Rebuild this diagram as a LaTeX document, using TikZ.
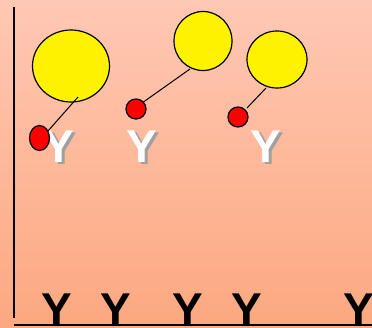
\documentclass[tikz,border=0pt]{standalone}
\usepackage{fontspec}
\setmainfont{Liberation Sans}
\definecolor{bgtop}{RGB}{255,200,180}
\definecolor{bgbot}{RGB}{252,168,128}
\definecolor{shadowgrey}{RGB}{160,160,160}
\begin{document}
\begin{tikzpicture}[x=1pt,y=-1pt,
  antigen/.style={draw=black,line width=1.2pt,fill=yellow},
  tag/.style={draw=black,line width=1.2pt,fill=red},
  tether/.style={draw=black,line width=1pt},
  axis/.style={draw=black,line width=1.5pt},
  ybig/.style={font=\bfseries\fontsize{46}{46}\selectfont,inner sep=0pt,anchor=base},
]
% background panel
\shade[top color=bgtop,bottom color=bgbot] (0,0) rectangle (372,327);
\useasboundingbox (0,0) rectangle (372,327);

% axes
\coordinate (ytop) at (14,7);
\coordinate (ybot) at (14,318);
\coordinate (origin) at (14,325);
\coordinate (xend) at (372,325);
\draw[axis] (ytop) -- (ybot);
\draw[axis] (origin) -- (xend);

% surface-bound Y antibodies
\foreach \xx/\nm in {56.5/b1,115.5/b2,188/b3,246.5/b4,358.5/b5}
  \node[ybig,text=black] (\nm) at (\xx,325) {Y};

% free Y antibodies (white with drop shadow)
\foreach \xx/\nm in {59/w1,142/w2,266/w3}{
  \node[ybig,text=shadowgrey] at (\xx+2.5,164.5) {Y};
  \node[ybig,text=white] (\nm) at (\xx,162) {Y};
}

% yellow particles
\draw[antigen] (71,66) ellipse [x radius=38.5,y radius=36];
\draw[antigen] (203,41) ellipse [x radius=29,y radius=29.5];
\draw[antigen] (277,59.5) ellipse [x radius=30,y radius=28.5];

% tethers
\coordinate (t1) at (78,97);
\coordinate (t2) at (190,69);
\coordinate (t3) at (266,88);
\coordinate (r1) at (48,131);
\coordinate (r2) at (142,103);
\coordinate (r3) at (247,108);
\draw[tether] (t1) -- (r1);
\draw[tether] (t2) -- (r2);
\draw[tether] (t3) -- (r3);

% red labels
\draw[tag] (39.5,138) ellipse [x radius=10,y radius=12.5];
\draw[tag] (136,109) circle [radius=10];
\draw[tag] (238,117) circle [radius=10];
\end{tikzpicture}
\end{document}
